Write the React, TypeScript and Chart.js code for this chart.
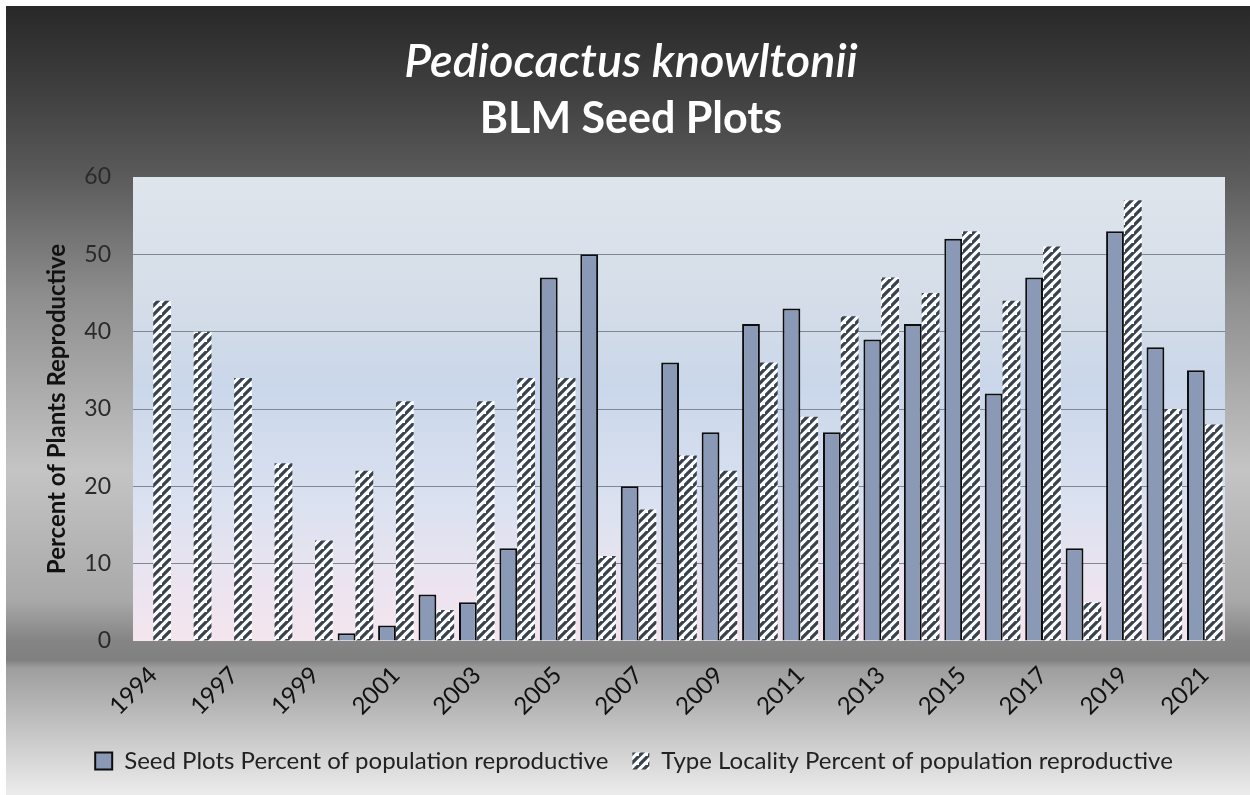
import React, { useEffect, useRef } from "react";
import { Chart, registerables } from "chart.js";

Chart.register(...registerables);

const years = [
  "1994", "1995", "1997", "1998", "1999", "2000", "2001", "2002", "2003",
  "2004", "2005", "2006", "2007", "2008", "2009", "2010", "2011", "2012",
  "2013", "2014", "2015", "2016", "2017", "2018", "2019", "2020", "2021",
];
const seedPlots = [
  null, null, null, null, null, 1, 2, 6, 5, 12, 47, 50, 20, 36, 27, 41, 43,
  27, 39, 41, 52, 32, 47, 12, 53, 38, 35,
];
const typeLocality = [
  44, 40, 34, 23, 13, 22, 31, 4, 31, 34, 34, 11, 17, 24, 22, 36, 29, 42, 47,
  45, 53, 44, 51, 5, 57, 30, 28,
];
const yMin = 0;
const yMax = 60;
const yStep = 10;
const seriesNames = [
  "Seed Plots Percent of population reproductive",
  "Type Locality Percent of population reproductive",
];
const titleLines = ["Pediocactus knowltonii", "BLM Seed Plots"];
const yTitle = "Percent of Plants Reproductive";

const FONT = "Lato, 'Open Sans', 'DejaVu Sans', sans-serif";

function makeHatch(ctx: CanvasRenderingContext2D) {
  const s = 9;
  const c = document.createElement("canvas");
  c.width = s;
  c.height = s;
  const g = c.getContext("2d")!;
  g.fillStyle = "#ffffff";
  g.fillRect(0, 0, s, s);
  g.strokeStyle = "#394350";
  g.lineWidth = 3.3;
  g.beginPath();
  g.moveTo(-2, s + 2);
  g.lineTo(s + 2, -2);
  g.moveTo(-s - 2, s + 2);
  g.lineTo(2, -2);
  g.moveTo(s - 2, 2 * s + 2);
  g.lineTo(2 * s + 2, s - 2);
  g.stroke();
  return ctx.createPattern(c, "repeat");
}

const bgPlugin = {
  id: "bgPlugin",
  beforeDraw(chart: any) {
    const { ctx, width, height, chartArea } = chart;
    ctx.save();
    ctx.fillStyle = "#ffffff";
    ctx.fillRect(0, 0, width, height);
    const top = 6;
    const g = ctx.createLinearGradient(0, top, 0, height);
    const stop = (y: number, c: string) =>
      g.addColorStop(Math.min(1, Math.max(0, (y - top) / (height - top))), c);
    stop(6, "#282828");
    stop(90, "#3f3f3f");
    stop(175, "#5a5a5a");
    stop(300, "#8f8f8f");
    stop(470, "#c4c4c4");
    stop(600, "#a9a9a9");
    stop(640, "#858585");
    stop(660, "#808080");
    stop(668, "#9e9e9e");
    stop(730, "#c4c4c4");
    stop(795, "#ececec");
    ctx.fillStyle = g;
    ctx.fillRect(top, top, width - top, height - top);

    const pa = ctx.createLinearGradient(0, chartArea.top, 0, chartArea.bottom);
    pa.addColorStop(0, "#dfe5ec");
    pa.addColorStop(0.3, "#d3dce8");
    pa.addColorStop(0.45, "#cad7ea");
    pa.addColorStop(0.7, "#dae1f0");
    pa.addColorStop(0.85, "#e9e4f0");
    pa.addColorStop(1, "#f4e5ee");
    ctx.fillStyle = pa;
    ctx.fillRect(chartArea.left, chartArea.top, chartArea.width, chartArea.height);

    const cx = (top + width) / 2 + 3;
    ctx.fillStyle = "#ffffff";
    ctx.textAlign = "center";
    ctx.textBaseline = "alphabetic";
    ctx.font = `italic 600 47px ${FONT}`;
    ctx.fillText(titleLines[0], cx, 77);
    ctx.font = `bold 43px ${FONT}`;
    ctx.fillText(titleLines[1], cx, 133);
    ctx.restore();
  },
};

export default function App() {
  const canvasRef = useRef<HTMLCanvasElement | null>(null);

  useEffect(() => {
    document.body.style.margin = "0";
    const canvas = canvasRef.current!;
    const ctx = canvas.getContext("2d")!;
    const hatch = makeHatch(ctx);

    const chart = new Chart(ctx, {
      type: "bar",
      data: {
        labels: years,
        datasets: [
          {
            label: seriesNames[0],
            data: seedPlots,
            backgroundColor: "#8a99b6",
            borderColor: "#0d0d0d",
            borderWidth: 2,
            borderSkipped: "bottom",
          },
          {
            label: seriesNames[1],
            data: typeLocality,
            backgroundColor: hatch as any,
            borderWidth: 0,
          },
        ],
      },
      plugins: [bgPlugin],
      options: {
        animation: false,
        responsive: false,
        maintainAspectRatio: false,
        datasets: {
          bar: { categoryPercentage: 0.88, barPercentage: 1.0 },
        },
        layout: { padding: { top: 177, right: 25, left: 43, bottom: 12 } },
        plugins: {
          title: { display: false },
          tooltip: { enabled: false },
          legend: {
            position: "bottom",
            labels: {
              font: { family: FONT, size: 24 },
              color: "#222222",
              boxWidth: 17,
              boxHeight: 17,
              padding: 24,
            },
          },
        },
        scales: {
          x: {
            grid: { display: false, drawTicks: false },
            border: { display: false },
            ticks: {
              autoSkip: false,
              maxRotation: 45,
              minRotation: 45,
              padding: 20,
              color: "#111111",
              font: { family: FONT, size: 24 },
              callback: (_v: any, i: number) => (i % 2 === 0 ? years[i] : ""),
            },
            afterFit: (scale: any) => {
              scale.height = 84;
            },
          },
          y: {
            min: yMin,
            max: yMax,
            ticks: {
              stepSize: yStep,
              padding: 22,
              color: "#2a2a2a",
              font: { family: FONT, size: 23 },
            },
            grid: {
              drawTicks: false,
              color: (c: any) =>
                c.tick && c.tick.value > yMin && c.tick.value < yMax
                  ? "#7d8894"
                  : "rgba(0,0,0,0)",
              lineWidth: 1,
            },
            border: { display: false },
            title: {
              display: true,
              text: yTitle,
              color: "#111111",
              font: { family: FONT, size: 24, weight: "bold" },
              padding: { top: 0, bottom: 0 },
            },
            afterFit: (scale: any) => {
              scale.width = 90;
            },
          },
        },
      },
    });
    return () => chart.destroy();
  }, []);

  return (
    <div style={{ width: 1250, height: 795 }}>
      <canvas ref={canvasRef} width={1250} height={795} style={{ display: "block" }} />
    </div>
  );
}
